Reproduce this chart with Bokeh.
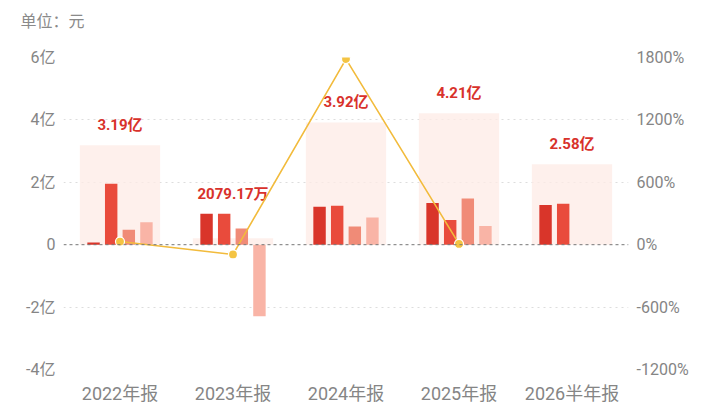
from bokeh.plotting import figure
from bokeh.models import ColumnDataSource, FactorRange, Range1d, LinearAxis, FixedTicker, CustomJSTickFormatter, Span
from bokeh.transform import dodge
from bokeh.core.properties import value
from bokeh.embed import file_html
from bokeh.resources import INLINE

categories = ["2022年报", "2023年报", "2024年报", "2025年报", "2026半年报"]
totals = [3.19, 0.2079, 3.92, 4.21, 2.58]          # 亿元
total_labels = ["3.19亿", "2079.17万", "3.92亿", "4.21亿", "2.58亿"]
series1 = [0.07, 0.99, 1.22, 1.34, 1.27]
series2 = [1.95, 0.99, 1.25, 0.79, 1.31]
series3 = [0.48, 0.52, 0.58, 1.48, None]
series4 = [0.72, -2.29, 0.87, 0.60, None]
growth = [30.0, -93.5, 1785.0, 7.4, None]          # %
left_ticks = [-4, -2, 0, 2, 4, 6]
right_ticks = [-1200, -600, 0, 600, 1200, 1800]
unit_text = "单位：元"

FONT = "Roboto, 'Noto Sans CJK SC'"
colors = ["#d9352a", "#e94b3c", "#f08b77", "#f9b4a6"]

p = figure(x_range=FactorRange(*categories, range_padding=0), y_range=Range1d(-4, 6),
           frame_width=565, frame_height=312, output_backend="svg", toolbar_location=None,
           min_border_left=63, min_border_right=84, min_border_top=57, min_border_bottom=28,
           title=unit_text + "\n ")
p.extra_y_ranges = {"pct": Range1d(-1200, 1800)}
p.outline_line_color = None
p.background_fill_color = "white"
p.border_fill_color = "white"
p.title.text_font = FONT
p.title.text_font_size = "16px"
p.title.text_font_style = "normal"
p.title.text_color = "#8a8a8a"
p.title.offset = -43
p.title.standoff = 16

# background total bars
bg = ColumnDataSource(dict(cat=categories, top=totals))
p.vbar(x="cat", top="top", bottom=0, width=0.71, source=bg, fill_color="#fdebe6",
       fill_alpha=0.75, line_color=None)

offsets = [-0.234, -0.078, 0.078, 0.234]
for s, off, c in zip([series1, series2, series3, series4], offsets, colors):
    cats = [k for k, v in zip(categories, s) if v is not None]
    vals = [v for v in s if v is not None]
    src = ColumnDataSource(dict(cat=cats, top=vals))
    p.vbar(x=dodge("cat", off, range=p.x_range), top="top", bottom=0, width=0.11,
           source=src, fill_color=c, line_color=None)

p.add_layout(Span(location=0, dimension="width", line_color="#777777", line_width=1,
                  line_dash="3 3"))

# total labels
lab_y = [max([t] + [v for v in (a, b, c_, d) if v is not None])
         for t, a, b, c_, d in zip(totals, series1, series2, series3, series4)]
lsrc = ColumnDataSource(dict(cat=categories, y=lab_y, t=total_labels))
p.text(x="cat", y="y", text="t", source=lsrc, text_align="center", text_baseline="bottom",
       y_offset=-11, text_font=value(FONT), text_font_size="15px", text_font_style="bold",
       text_color="#d8322b")

# growth line
gcats = [k for k, v in zip(categories, growth) if v is not None]
gvals = [v for v in growth if v is not None]
gsrc = ColumnDataSource(dict(cat=gcats, y=gvals))
p.line(x="cat", y="y", source=gsrc, y_range_name="pct", line_color="#f2bb3c", line_width=1.6)
p.scatter(x="cat", y="y", source=gsrc, y_range_name="pct", size=9, fill_color="#f4c443",
          line_color="white", line_width=1.2)

# axes
p.yaxis.ticker = FixedTicker(ticks=left_ticks)
p.yaxis.formatter = CustomJSTickFormatter(code='return tick == 0 ? "0" : tick + "亿";')
ax_r = LinearAxis(y_range_name="pct", ticker=FixedTicker(ticks=right_ticks),
                  formatter=CustomJSTickFormatter(code='return tick + "%";'))
p.add_layout(ax_r, "right")
for ax in [p.yaxis[0], ax_r, p.xaxis[0]]:
    ax.axis_line_color = None
    ax.major_tick_line_color = None
    ax.minor_tick_line_color = None
    ax.major_tick_out = 0
    ax.major_tick_in = 0
    ax.minor_tick_out = 0
    ax.major_label_text_font = FONT
    ax.major_label_text_color = "#858585"
for ax in [p.yaxis[0], ax_r]:
    ax.major_label_text_font_size = "16px"
    ax.major_label_standoff = 8
p.xaxis.major_label_text_font_size = "18px"
p.xaxis.major_label_standoff = 13

p.xgrid.grid_line_color = None
p.ygrid.grid_line_color = "#dddddd"
p.ygrid.grid_line_dash = "2 4"
p.ygrid.ticker = FixedTicker(ticks=[-4, -2, 2, 4, 6])

open("out.html", "w").write(file_html(p, INLINE))
